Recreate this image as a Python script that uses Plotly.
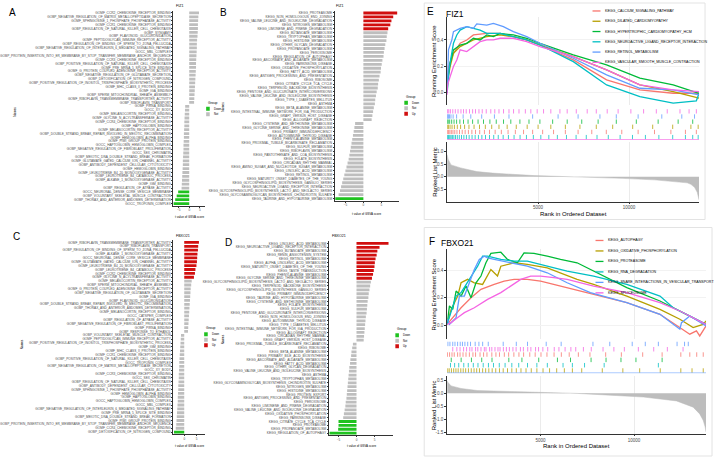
import plotly.graph_objects as go

W, H = 717, 459
def fx(p): return p / W
def fy(p): return 1 - p / H

# ------------------------------------------------------------------ data
A_names = ["GOMF_CCR2_CHEMOKINE_RECEPTOR_BINDING","GOBP_NEGATIVE_REGULATION_OF_MATRIX_METALLOPEPTIDASE_SECRETION",
"GOMF_SPHINGOSINE_1_PHOSPHATE_PHOSPHATASE_ACTIVITY","GOMF_CCR1_CHEMOKINE_RECEPTOR_BINDING",
"GOBP_REGULATION_OF_NATURAL_KILLER_CELL_CHEMOTAXIS","GOBP_SYNGAMY","GOBP_FLAVONOID_GLUCURONIDATION",
"GOMF_PEPTIDOGLYCAN_IMMUNE_RECEPTOR_ACTIVITY","GOBP_REGULATION_OF_BINDING_OF_SPERM_TO_ZONA_PELLUCIDA",
"GOBP_NEGATIVE_REGULATION_OF_INTERLEUKIN_6_MEDIATED_SIGNALING_PATHWAY","GOCC_MBL_COMPLEX",
"GOBP_PROTEIN_INSERTION_INTO_ER_MEMBRANE_BY_STOP_TRANSFER_MEMBRANE_ANCHOR_SEQUENCE","GOMF_CCR3_CHEMOKINE_RECEPTOR_BINDING",
"GOBP_POSITIVE_REGULATION_OF_NATURAL_KILLER_CELL_CHEMOTAXIS","GOMF_PRE_MRNA_5_SPLICE_SITE_BINDING",
"GOMF_G_PROTEIN_COUPLED_ADENOSINE_RECEPTOR_ACTIVITY","GOBP_NEGATIVE_REGULATION_OF_GLUTAMATE_SECRETION",
"GOBP_DETOXIFICATION_OF_NITROGEN_COMPOUND","GOBP_POSITIVE_REGULATION_OF_INOSITOL_TRISPHOSPHATE_BIOSYNTHETIC_PROCESS",
"GOMF_MHC_CLASS_II_PROTEIN_BINDING","GOMF_IGA_BINDING","GOBP_SPERM_MITOCHONDRIAL_SHEATH_ASSEMBLY",
"GOMF_RIBOFLAVIN_TRANSMEMBRANE_TRANSPORTER_ACTIVITY","GOBP_RIBOFLAVIN_TRANSPORT","GOMF_PIRNA_BINDING","GOCC_XY_BODY",
"GOMF_MELANOCORTIN_RECEPTOR_BINDING","GOMF_GLYCINE_N_ACYLTRANSFERASE_ACTIVITY","GOMF_CCR4_CHEMOKINE_RECEPTOR_BINDING",
"GOMF_HAPTOGLOBIN_BINDING","GOMF_MELANOCORTIN_RECEPTOR_ACTIVITY",
"GOBP_DOUBLE_STRAND_BREAK_REPAIR_INVOLVED_IN_MEIOTIC_RECOMBINATION","GOMF_HEMOGLOBIN_ALPHA_BINDING",
"GOMF_PIWI_GROUP_PROTEIN_BINDING","GOCC_HAPTOGLOBIN_HEMOGLOBIN_COMPLEX","GOBP_NEGATIVE_REGULATION_OF_FIBROBLAST_PROLIFERATION",
"GOCC_SEX_CHROMATIN","GOBP_MEIOTIC_DNA_DOUBLE_STRAND_BREAK_FORMATION","GOMF_GLUTAMATE_GATED_CALCIUM_ION_CHANNEL_ACTIVITY",
"GOBP_ANTIBODY_DEPENDENT_CELLULAR_CYTOTOXICITY","GOMF_HEMOGLOBIN_BINDING","GOMF_LEUKOTRIENE_B4_20_MONOOXYGENASE_ACTIVITY",
"GOBP_LEUKOTRIENE_B4_CATABOLIC_PROCESS","GOMF_ALKANE_1_MONOOXYGENASE_ACTIVITY","GOMF_IGM_BINDING",
"GOBP_REGULATION_OF_ATPASE_ACTIVITY","GOCC_NEURONAL_DENSE_CORE_VESICLE_MEMBRANE",
"GOBP_VOLUNTARY_SKELETAL_MUSCLE_CONTRACTION","GOBP_THORAX_AND_ANTERIOR_ABDOMEN_DETERMINATION","GOCC_TROPONIN_COMPLEX"]
A_t = [4.6, 4.3, 4.2, 4.1, 4.1, 4.0, 3.9, 3.7, 3.6, 3.6, 3.5, 3.4, 3.3, 3.2, 3.2, 3.1, 3.0, 2.9, 2.8, 2.7, 2.6, 2.5, 2.4, 2.3,
       -1.9, -2.0, -2.1, -2.2, -2.3, -2.3, -2.4, -2.5, -2.5, -2.6, -2.7, -2.7, -2.8, -2.9, -3.0, -3.0, -3.1, -3.2, -3.3, -3.4, -3.5, -3.6,
       -5.2, -5.9, -6.6, -7.4]
A_group = ["Not"] * 46 + ["Down"] * 4

B_names = ["KEGG_PROTEASOME","KEGG_NON_HOMOLOGOUS_END_JOINING","KEGG_VALINE_LEUCINE_AND_ISOLEUCINE_DEGRADATION",
"KEGG_NITROGEN_METABOLISM","KEGG_LIMONENE_AND_PINENE_DEGRADATION","KEGG_BUTANOATE_METABOLISM","KEGG_TRYPTOPHAN_METABOLISM",
"KEGG_HISTIDINE_METABOLISM","KEGG_OTHER_GLYCAN_DEGRADATION","KEGG_PROPANOATE_METABOLISM","KEGG_PEROXISOME",
"KEGG_REGULATION_OF_AUTOPHAGY","KEGG_ASCORBATE_AND_ALDARATE_METABOLISM","KEGG_PARKINSONS_DISEASE",
"KEGG_OXIDATIVE_PHOSPHORYLATION","KEGG_FATTY_ACID_METABOLISM","KEGG_ANTIGEN_PROCESSING_AND_PRESENTATION","KEGG_RIBOSOME",
"KEGG_CITRATE_CYCLE_TCA_CYCLE","KEGG_TERPENOID_BACKBONE_BIOSYNTHESIS","KEGG_PENTOSE_AND_GLUCURONATE_INTERCONVERSIONS",
"KEGG_VALINE_LEUCINE_AND_ISOLEUCINE_BIOSYNTHESIS","KEGG_TYPE_I_DIABETES_MELLITUS","KEGG_ASTHMA","KEGG_BETA_ALANINE_METABOLISM",
"KEGG_INTESTINAL_IMMUNE_NETWORK_FOR_IGA_PRODUCTION","KEGG_GRAFT_VERSUS_HOST_DISEASE","KEGG_ALLOGRAFT_REJECTION",
"KEGG_CYSTEINE_AND_METHIONINE_METABOLISM","KEGG_GLYCINE_SERINE_AND_THREONINE_METABOLISM","KEGG_PRIMARY_IMMUNODEFICIENCY",
"KEGG_AUTOIMMUNE_THYROID_DISEASE","KEGG_PHENYLALANINE_METABOLISM","KEGG_PROXIMAL_TUBULE_BICARBONATE_RECLAMATION",
"KEGG_SULFUR_METABOLISM","KEGG_RIBOFLAVIN_METABOLISM","KEGG_PANTOTHENATE_AND_COA_BIOSYNTHESIS","KEGG_FOLATE_BIOSYNTHESIS",
"KEGG_CIRCADIAN_RHYTHM_MAMMAL","KEGG_AMINO_SUGAR_AND_NUCLEOTIDE_SUGAR_METABOLISM","KEGG_LINOLEIC_ACID_METABOLISM",
"KEGG_RETINOL_METABOLISM","KEGG_MATURITY_ONSET_DIABETES_OF_THE_YOUNG","KEGG_GLYCOSPHINGOLIPID_BIOSYNTHESIS_GANGLIO_SERIES",
"KEGG_NEUROACTIVE_LIGAND_RECEPTOR_INTERACTION","KEGG_GLYCOSPHINGOLIPID_BIOSYNTHESIS_LACTO_AND_NEOLACTO_SERIES",
"KEGG_GLYCOSAMINOGLYCAN_BIOSYNTHESIS_CHONDROITIN_SULFATE","KEGG_TAURINE_AND_HYPOTAURINE_METABOLISM"]
B_t = [9.4, 8.3, 7.8, 7.5, 6.9,
       6.7, 6.5, 6.4, 6.1, 5.9, 5.7, 5.6, 5.3, 5.1, 4.9, 4.8, 4.5, 4.3, 4.1, 4.0, 3.7, 3.5, 3.3, 3.2, 2.9, 2.7, 2.5, 2.3,
       -2.3, -2.5, -2.7, -2.9, -3.1, -3.3, -3.5, -3.7, -3.9, -4.1, -4.4, -4.7, -5.0, -5.3, -5.6, -5.9, -6.2, -6.5, -6.9,
       -7.8]
B_group = ["Up"] * 5 + ["Not"] * 42 + ["Down"]

C_names = ["GOMF_RIBOFLAVIN_TRANSMEMBRANE_TRANSPORTER_ACTIVITY","GOBP_RIBOFLAVIN_TRANSPORT",
"GOBP_REGULATION_OF_BINDING_OF_SPERM_TO_ZONA_PELLUCIDA","GOMF_ALKANE_1_MONOOXYGENASE_ACTIVITY",
"GOCC_NEURONAL_DENSE_CORE_VESICLE_MEMBRANE","GOMF_GLUTAMATE_GATED_CALCIUM_ION_CHANNEL_ACTIVITY",
"GOMF_LEUKOTRIENE_B4_20_MONOOXYGENASE_ACTIVITY","GOBP_LEUKOTRIENE_B4_CATABOLIC_PROCESS","GOMF_CCR2_CHEMOKINE_RECEPTOR_BINDING",
"GOMF_GLYCINE_N_ACYLTRANSFERASE_ACTIVITY","GOMF_MELANOCORTIN_RECEPTOR_ACTIVITY","GOBP_SPERM_MITOCHONDRIAL_SHEATH_ASSEMBLY",
"GOMF_G_PROTEIN_COUPLED_ADENOSINE_RECEPTOR_ACTIVITY","GOBP_NEGATIVE_REGULATION_OF_GLUTAMATE_SECRETION","GOMF_IGA_BINDING",
"GOBP_FLAVONOID_GLUCURONIDATION","GOBP_DOUBLE_STRAND_BREAK_REPAIR_INVOLVED_IN_MEIOTIC_RECOMBINATION",
"GOBP_THORAX_AND_ANTERIOR_ABDOMEN_DETERMINATION","GOMF_MELANOCORTIN_RECEPTOR_BINDING","GOCC_CATSPER_COMPLEX",
"GOBP_REGULATION_OF_ATPASE_ACTIVITY","GOBP_NEGATIVE_REGULATION_OF_FIBROBLAST_PROLIFERATION","GOMF_PIRNA_BINDING",
"GOBP_RESPONSE_TO_ETHANOL","GOBP_VOLUNTARY_SKELETAL_MUSCLE_CONTRACTION","GOMF_PEPTIDOGLYCAN_IMMUNE_RECEPTOR_ACTIVITY",
"GOBP_POSITIVE_REGULATION_OF_INOSITOL_TRISPHOSPHATE_BIOSYNTHETIC_PROCESS","GOMF_IGM_BINDING","GOMF_MHC_CLASS_II_PROTEIN_BINDING",
"GOMF_CCR1_CHEMOKINE_RECEPTOR_BINDING","GOBP_POSITIVE_REGULATION_OF_NATURAL_KILLER_CELL_CHEMOTAXIS","GOCC_TROPONIN_COMPLEX",
"GOBP_NEGATIVE_REGULATION_OF_MATRIX_METALLOPEPTIDASE_SECRETION","GOCC_XY_BODY","GOMF_CCR3_CHEMOKINE_RECEPTOR_BINDING",
"GOCC_SEX_CHROMATIN","GOBP_REGULATION_OF_NATURAL_KILLER_CELL_CHEMOTAXIS","GOBP_ANTIBODY_DEPENDENT_CELLULAR_CYTOTOXICITY",
"GOMF_SPHINGOSINE_1_PHOSPHATE_PHOSPHATASE_ACTIVITY","GOMF_HEMOGLOBIN_ALPHA_BINDING","GOMF_HAPTOGLOBIN_BINDING",
"GOCC_HAPTOGLOBIN_HEMOGLOBIN_COMPLEX","GOCC_MBL_COMPLEX","GOBP_NEGATIVE_REGULATION_OF_INTERLEUKIN_6_MEDIATED_SIGNALING_PATHWAY",
"GOMF_PRE_MRNA_5_SPLICE_SITE_BINDING","GOBP_MEIOTIC_DNA_DOUBLE_STRAND_BREAK_FORMATION","GOMF_PIWI_GROUP_PROTEIN_BINDING",
"GOBP_PROTEIN_INSERTION_INTO_ER_MEMBRANE_BY_STOP_TRANSFER_MEMBRANE_ANCHOR_SEQUENCE","GOMF_CCR4_CHEMOKINE_RECEPTOR_BINDING",
"GOBP_DETOXIFICATION_OF_NITROGEN_COMPOUND"]
C_t = [5.9, 5.6, 5.5, 5.3, 5.2, 5.1, 4.9, 4.5, 4.3, 3.9,
       3.0, 2.8, 2.6, 2.5, 2.4, 2.3, 2.2, 2.1, 2.0, 1.9, 1.8, 1.7, 1.6, 1.5,
       -1.3, -1.4, -1.5, -1.6, -1.7, -1.8, -1.9, -2.0, -2.0, -2.1, -2.2, -2.2, -2.3, -2.4, -2.4, -2.5, -2.6, -2.6, -2.7,
       -2.8, -2.9, -3.0, -3.1, -3.2, -3.4,
       -4.1]
C_group = ["Up"] * 10 + ["Not"] * 39 + ["Down"]

D_names = ["KEGG_LINOLEIC_ACID_METABOLISM","KEGG_NEUROACTIVE_LIGAND_RECEPTOR_INTERACTION","KEGG_BUTANOATE_METABOLISM",
"KEGG_RENIN_ANGIOTENSIN_SYSTEM","KEGG_RETINOL_METABOLISM","KEGG_ALPHA_LINOLENIC_ACID_METABOLISM",
"KEGG_MATURITY_ONSET_DIABETES_OF_THE_YOUNG","KEGG_TASTE_TRANSDUCTION","KEGG_PHENYLALANINE_METABOLISM",
"KEGG_GLYCINE_SERINE_AND_THREONINE_METABOLISM","KEGG_GLYCOSPHINGOLIPID_BIOSYNTHESIS_LACTO_AND_NEOLACTO_SERIES",
"KEGG_TERPENOID_BACKBONE_BIOSYNTHESIS","KEGG_GLYCOSPHINGOLIPID_BIOSYNTHESIS_GANGLIO_SERIES","KEGG_PRIMARY_IMMUNODEFICIENCY",
"KEGG_TAURINE_AND_HYPOTAURINE_METABOLISM","KEGG_CYSTEINE_AND_METHIONINE_METABOLISM","KEGG_FOLATE_BIOSYNTHESIS",
"KEGG_SULFUR_METABOLISM","KEGG_PENTOSE_AND_GLUCURONATE_INTERCONVERSIONS","KEGG_NON_HOMOLOGOUS_END_JOINING",
"KEGG_AUTOIMMUNE_THYROID_DISEASE","KEGG_TYPE_I_DIABETES_MELLITUS","KEGG_INTESTINAL_IMMUNE_NETWORK_FOR_IGA_PRODUCTION",
"KEGG_ALLOGRAFT_REJECTION","KEGG_CIRCADIAN_RHYTHM_MAMMAL","KEGG_GRAFT_VERSUS_HOST_DISEASE",
"KEGG_PROXIMAL_TUBULE_BICARBONATE_RECLAMATION","KEGG_RIBOSOME","KEGG_BETA_ALANINE_METABOLISM",
"KEGG_PRIMARY_BILE_ACID_BIOSYNTHESIS","KEGG_ASCORBATE_AND_ALDARATE_METABOLISM","KEGG_FATTY_ACID_METABOLISM",
"KEGG_OTHER_GLYCAN_DEGRADATION","KEGG_VALINE_LEUCINE_AND_ISOLEUCINE_BIOSYNTHESIS","KEGG_ASTHMA","KEGG_TRYPTOPHAN_METABOLISM",
"KEGG_GLYCOSAMINOGLYCAN_BIOSYNTHESIS_CHONDROITIN_SULFATE","KEGG_NITROGEN_METABOLISM","KEGG_HISTIDINE_METABOLISM",
"KEGG_PROTEIN_EXPORT","KEGG_ANTIGEN_PROCESSING_AND_PRESENTATION","KEGG_PEROXISOME","KEGG_LIMONENE_AND_PINENE_DEGRADATION",
"KEGG_VALINE_LEUCINE_AND_ISOLEUCINE_DEGRADATION","KEGG_OXIDATIVE_PHOSPHORYLATION","KEGG_PARKINSONS_DISEASE",
"KEGG_CITRATE_CYCLE_TCA_CYCLE","KEGG_PROTEASOME","KEGG_PROPANOATE_METABOLISM","KEGG_REGULATION_OF_AUTOPHAGY"]
D_t = [8.9, 6.4, 5.8, 5.6, 5.3, 5.1, 5.0, 4.8, 4.6, 4.3,
       4.0, 3.8, 3.6, 3.4, 3.3, 3.1, 3.0, 2.9, 2.8, 2.6, 2.5, 2.4, 2.3, 2.2, 2.1, 2.0,
       -1.0, -1.2, -1.4, -1.5, -1.7, -1.8, -2.0, -2.1, -2.2, -2.3, -2.4, -2.5, -2.6, -2.7, -2.8, -3.0, -3.1, -3.3, -3.5, -3.7,
       -5.0, -5.0, -5.1, -7.5]
D_group = ["Up"] * 10 + ["Not"] * 36 + ["Down"] * 4

T_TICKS = [-5, 0, 5]

# GSEA panel E (FIZ1)
E_sets = ["KEGG_CALCIUM_SIGNALING_PATHWAY", "KEGG_DILATED_CARDIOMYOPATHY", "KEGG_HYPERTROPHIC_CARDIOMYOPATHY_HCM",
          "KEGG_NEUROACTIVE_LIGAND_RECEPTOR_INTERACTION", "KEGG_RETINOL_METABOLISM", "KEGG_VASCULAR_SMOOTH_MUSCLE_CONTRACTION"]
E_calcium_rank = [0, 73, 348, 714, 1080, 1446, 2178, 2910, 3642, 4374, 5106, 6936, 8766, 10596, 12426, 13850]
E_calcium_es = [0, 0.199, 0.299, 0.375, 0.40, 0.438, 0.450, 0.450, 0.425, 0.40, 0.362, 0.249, 0.098, 0.023, -0.003, -0.003]
E_dilated_rank = [0, 18, 165, 348, 714, 1446, 2178, 2910, 3642, 4374, 5106, 6936, 8766, 10596, 12426, 13850]
E_dilated_es = [0, 0.086, 0.199, 0.299, 0.350, 0.40, 0.425, 0.438, 0.425, 0.40, 0.362, 0.274, 0.174, 0.060, 0.010, -0.040]
E_hcm_rank = [0, 18, 165, 348, 714, 1080, 1446, 1812, 2178, 2544, 2910, 3642, 4374, 5106, 6936, 8766, 10596, 12426, 13850]
E_hcm_es = [0, 0.098, 0.224, 0.325, 0.362, 0.375, 0.413, 0.40, 0.438, 0.425, 0.450, 0.438, 0.413, 0.375, 0.287, 0.211, 0.111, 0.060, -0.003]
E_neuro_rank = [0, 128, 348, 531, 714, 1080, 1446, 1812, 2178, 2910, 3642, 4374, 5106, 6936, 8766, 10596, 12426, 13700, 13850]
E_neuro_es = [0, 0.199, 0.375, 0.438, 0.475, 0.501, 0.488, 0.475, 0.450, 0.450, 0.425, 0.40, 0.362, 0.236, 0.060, -0.028, -0.078, -0.06, -0.003]
E_retinol_rank = [0, 73, 256, 348, 714, 1080, 1446, 1629, 2178, 2544, 3093, 3642, 4374, 5106, 6936, 8766, 10596, 12426, 13850]
E_retinol_es = [0, 0.325, 0.40, 0.463, 0.488, 0.501, 0.488, 0.521, 0.513, 0.526, 0.501, 0.463, 0.425, 0.375, 0.262, 0.136, 0.035, 0.023, -0.015]
E_vascular_rank = [0, 18, 165, 348, 531, 714, 1080, 1446, 1812, 2178, 2544, 2910, 3642, 4374, 5106, 6936, 8766, 10596, 12426, 13850]
E_vascular_es = [-0.015, 0.06, 0.123, 0.199, 0.249, 0.325, 0.312, 0.350, 0.387, 0.40, 0.40, 0.413, 0.413, 0.387, 0.350, 0.274, 0.174, 0.060, 0.023, 0.010]

E_hits_vascular = [20, 90, 180, 310, 450, 600, 760, 900, 1050, 1230, 1400, 1560, 1750, 1930, 2150, 2400, 2620, 2850, 3100,
                   3400, 3650, 3950, 4300, 4600, 4950, 5300, 5700, 6200, 6600, 7100, 7700, 8200, 8800, 9400, 10100,
                   10800, 11500, 12100, 12800, 13300, 13700]
E_hits_retinol = [15, 40, 70, 130, 210, 330, 520, 880, 1300, 1900, 2600, 3400, 4700, 6100, 7200, 8400, 9300, 10500,
                  11800, 12900, 13600]
E_hits_hcm = [10, 60, 140, 250, 380, 520, 700, 900, 1150, 1400, 1700, 2000, 2350, 2700, 3100, 3500, 4000, 4500, 5100,
              5800, 6600, 7400, 8300, 9300, 10400, 11600, 12700, 13500]
E_hits_dilated = [12, 70, 160, 270, 400, 560, 740, 960, 1200, 1480, 1780, 2100, 2450, 2850, 3300, 3800, 4400, 5000,
                  5700, 6500, 7300, 8200, 9100, 10200, 11300, 12400, 13400, 13800]
E_hits_calcium = [25, 80, 150, 230, 320, 420, 540, 680, 830, 990, 1170, 1360, 1560, 1790, 2050, 2330, 2640, 2980, 3350,
                  3750, 4200, 4700, 5250, 5850, 6500, 7200, 7950, 8750, 9600, 10500, 11400, 12300, 13100, 13700]
E_hits_neuro = [8, 35, 70, 110, 160, 220, 290, 370, 460, 560, 670, 790, 920, 1060, 1210, 1370, 1540, 1720, 1910, 2110,
                2330, 2560, 2810, 3080, 3370, 3680, 4010, 4360, 4740, 5150, 5590, 6060, 6560, 7090, 7650, 8240, 8860,
                9510, 10190, 10900, 11640, 12400, 13100, 13500, 13800]

E_metric_rank = [0, 60, 213, 745, 1630, 2500, 4800, 7840, 9620, 11400, 12500, 13200, 13400, 13600, 13750, 13850]
E_metric_val = [0.89, 0.70, 0.48, 0.36, 0.21, 0.15, 0.05, -0.01, -0.06, -0.12, -0.18, -0.24, -0.30, -0.42, -0.62, -0.93]

# GSEA panel F (FBXO21)
F_sets = ["KEGG_AUTOPHAGY", "KEGG_OXIDATIVE_PHOSPHORYLATION", "KEGG_PROTEASOME", "KEGG_RNA_DEGRADATION",
          "KEGG_SNARE_INTERACTIONS_IN_VESICULAR_TRANSPORT", "KEGG_SPLICEOSOME"]
F_autophagy_rank = [0, 390, 745, 1277, 1809, 2518, 3050, 3582, 4291, 5001, 5710, 6419, 7838, 9611, 11385, 12626, 12981, 13336, 13513, 13850]
F_autophagy_es = [0.007, 0.068, 0.128, 0.201, 0.262, 0.298, 0.322, 0.335, 0.335, 0.322, 0.298, 0.274, 0.225, 0.165, 0.080, -0.029, -0.065, -0.041, -0.078, -0.005]
F_oxphos_rank = [0, 213, 567, 745, 1099, 1454, 1897, 2341, 2695, 2873, 3582, 4291, 5355, 6065, 6951, 7838, 9611, 11385, 12450, 13158, 13690, 13850]
F_oxphos_es = [0.007, 0.116, 0.213, 0.310, 0.335, 0.310, 0.298, 0.407, 0.359, 0.431, 0.456, 0.444, 0.419, 0.383, 0.335, 0.298, 0.213, 0.116, 0.044, -0.017, 0.007, 0.031]
F_proteasome_rank = [0, 124, 301, 479, 745, 1011, 1277, 1543, 1809, 2075, 2341, 2873, 3227, 3759, 4114, 4646, 5355, 6065, 6951, 7838, 9611, 11385, 12450, 13850]
F_proteasome_es = [0.007, 0.141, 0.116, 0.250, 0.213, 0.286, 0.201, 0.310, 0.359, 0.456, 0.524, 0.533, 0.48, 0.456, 0.528, 0.524, 0.504, 0.48, 0.456, 0.395, 0.274, 0.177, 0.104, 0.007]
F_rna_rank = [0, 213, 479, 745, 1277, 1631, 1897, 2163, 2873, 3582, 4291, 5355, 6419, 7838, 9611, 11385, 12094, 12804, 13850]
F_rna_es = [0.007, 0.092, 0.213, 0.238, 0.359, 0.431, 0.504, 0.504, 0.48, 0.468, 0.468, 0.431, 0.395, 0.359, 0.298, 0.213, 0.128, 0.080, 0.007]
F_snare_rank = [0, 124, 479, 656, 922, 1277, 1454, 1720, 1986, 2163, 2518, 3405, 4291, 5355, 6419, 7661, 9611, 11385, 12450, 12537, 12981, 13850]
F_snare_es = [0.044, 0.007, 0.056, 0.213, 0.213, 0.335, 0.407, 0.48, 0.504, 0.492, 0.48, 0.456, 0.431, 0.383, 0.310, 0.238, 0.165, 0.080, -0.029, 0.019, 0.068, -0.005]
F_splice_rank = [0, 213, 567, 922, 1454, 2163, 2873, 3405, 3937, 4469, 5001, 5710, 6419, 7838, 9611, 11385, 12450, 13850]
F_splice_es = [0.007, 0.019, 0.056, 0.092, 0.128, 0.189, 0.238, 0.286, 0.335, 0.359, 0.359, 0.347, 0.335, 0.286, 0.238, 0.165, 0.104, 0.007]

F_hits_snare = [40, 150, 300, 420, 560, 700, 820, 950, 1100, 1250, 1500, 1700, 1900, 2200, 3000, 3700, 4300, 5300, 6100,
                7800, 8700, 9900, 10600, 11300, 12300, 12700, 12900]
F_hits_splice = [300, 520, 690, 880, 1040, 1210, 1330, 1520, 1640, 1810, 1990, 2080, 2270, 2390, 2560, 2720, 2830, 3010,
                 3170, 3330, 3520, 3690, 3920, 4080, 4310, 4480, 4730, 4890, 5120, 5380, 5730, 5980, 6310, 6620, 6880,
                 7290, 7710, 8340, 8920, 9480, 10230, 11050, 11780, 12620]
F_hits_autophagy = [20, 130, 260, 380, 560, 690, 850, 1010, 1190, 1380, 1520, 1760, 1950, 2130, 2390, 2610, 2800, 3060,
                    3290, 3570, 3840, 4090, 4420, 4710, 5020, 5340, 5720, 6110, 6530, 7020, 7640, 8480, 9320, 10460,
                    11500, 12500, 12980, 13350, 13700]
F_hits_proteasome = [220, 750, 1300, 1850, 2400, 3300, 4000, 4900, 5900, 6600, 7700, 8500, 9300, 10100, 11500]
F_hits_rna = [180, 400, 620, 890, 1130, 1400, 1650, 1930, 2210, 2480, 2790, 3100, 3460, 3830, 4300, 4800, 5360, 6200,
              6700, 7350, 8400, 11300]
F_hits_oxphos = [30, 110, 230, 350, 470, 590, 730, 860, 990, 1140, 1290, 1440, 1580, 1730, 1900, 2060, 2230, 2410,
                 2600, 2800, 3000, 3230, 3460, 3700, 3950, 4220, 4500, 4800, 5130, 5480, 5860, 6270, 6700, 7200, 8300,
                 9400, 10300, 11400, 12500, 13100, 13700]

F_metric_rank = [0, 60, 213, 745, 1630, 3400, 5000, 6950, 8720, 10500, 12270, 13160, 13510, 13700, 13800, 13850]
F_metric_val = [0.47, 0.40, 0.28, 0.18, 0.10, 0.05, 0.03, -0.01, -0.07, -0.15, -0.30, -0.54, -0.80, -1.05, -1.30, -1.50]

RANK_TICKS = [5000, 10000]
N_GENES = 13850

GROUP_COLORS = {"Down": "#1FC21F", "Not": "#BEBEBE", "Up": "#D10F0F"}
SET_COLORS = ["#F8766D", "#B79F00", "#00BA38", "#00BFC4", "#619CFF", "#F564E3"]

FONT = "Liberation Sans, Arial, sans-serif"
fig = go.Figure()
ann = []
shapes = []

# ------------------------------------------------------------------ bar panels
bar_panels = [
    (A_names, A_t, A_group, "", (171, 203), (11, 206), (-7.5, 7.5)),
    (B_names, B_t, B_group, "2", (333, 398), (11, 201), (-8.0, 10.0)),
    (C_names, C_t, C_group, "3", (171, 203), (241, 435), (-4.4, 8.4)),
    (D_names, D_t, D_group, "4", (327, 392), (242, 436), (-7.75, 10.25)),
]
for names, tv, grp, s, xd, yd, rng in bar_panels:
    fig.add_trace(go.Bar(x=tv, y=names, orientation="h", width=0.72,
                         marker=dict(color=[GROUP_COLORS[g] for g in grp], line=dict(width=0)),
                         xaxis="x" + s, yaxis="y" + s, showlegend=False, hoverinfo="skip"))
    fig.layout["xaxis" + s] = dict(domain=[fx(xd[0]), fx(xd[1])], range=list(rng), anchor="y" + s,
                                   tickvals=T_TICKS, tickfont=dict(size=3, color="#4d4d4d"), ticks="outside",
                                   ticklen=1.5, tickwidth=0.5, tickcolor="#333", showline=True, linecolor="#333",
                                   linewidth=0.6, showgrid=False, zeroline=False)
    fig.layout["yaxis" + s] = dict(domain=[fy(yd[1]), fy(yd[0])], anchor="x" + s, type="category",
                                   categoryorder="array", categoryarray=names,
                                   autorange="reversed", tickmode="linear", tick0=0, dtick=1,
                                   tickfont=dict(size=3.2, color="#4d4d4d"), ticks="outside",
                                   ticklen=1, tickwidth=0.4, tickcolor="#333", showline=True, linecolor="#333",
                                   linewidth=0.6, showgrid=False)

def text(x, y, t, size, color="#000", xanchor="left", yanchor="middle", angle=0):
    ann.append(dict(x=fx(x), y=fy(y), xref="paper", yref="paper", text=t, showarrow=False,
                    font=dict(size=size, color=color, family=FONT), xanchor=xanchor, yanchor=yanchor,
                    textangle=angle))

for L, x, y in [("A", 4, 13), ("B", 216, 13), ("C", 8, 237), ("D", 221, 243), ("E", 424, 12), ("F", 426, 242)]:
    text(x, y, L, 10)
for t, x, y in [("FIZ1", 172, 6), ("FIZ1", 332, 6), ("FBXO21", 172, 237), ("FBXO21", 328, 237)]:
    text(x, y, t, 3.6)
for x, y in [(12, 112), (221, 107), (19, 345), (221, 340)]:
    text(x, y, "Names", 3, angle=-90, xanchor="center")
for x, y in [(187, 217), (365, 214), (187, 447), (360, 447)]:
    text(x, y, "t value of GSVA score", 3, xanchor="center")

legends = [
    (204, 103, ["Down", "Not"]),
    (403, 97, ["Down", "Not", "Up"]),
    (202, 329, ["Down", "Not", "Up"]),
    (394, 330, ["Down", "Not", "Up"]),
]
for lx, ly, items in legends:
    text(lx, ly, "Group", 3.4)
    for i, g in enumerate(items):
        y0 = ly + 4 + i * 5.5
        shapes.append(dict(type="rect", xref="paper", yref="paper", x0=fx(lx), x1=fx(lx + 3.6),
                           y0=fy(y0 + 4), y1=fy(y0), fillcolor=GROUP_COLORS[g], line=dict(width=0)))
        text(lx + 5.5, y0 + 2, g, 2.8)

# ------------------------------------------------------------------ GSEA panels
def gsea(prefix_idx, title, tx, ty, xd, top_y, hits_y, met_y, es_range, met_range, met_ticks,
         curves, hits_rows, metric, legend_pos, box, sets):
    a_top, a_hit, a_met = prefix_idx, prefix_idx + 1, prefix_idx + 2
    for (r, e), c in zip(curves, SET_COLORS):
        fig.add_trace(go.Scatter(x=r, y=e, mode="lines", line=dict(color=c, width=1.3),
                                 xaxis=f"x{a_top}", yaxis=f"y{a_top}", showlegend=False, hoverinfo="skip"))
    for k, (hits, c) in enumerate(hits_rows):
        xs, ys = [], []
        for h in hits:
            xs += [h, h, None]
            ys += [5 - k + 0.08, 6 - k - 0.08, None]
        fig.add_trace(go.Scatter(x=xs, y=ys, mode="lines", line=dict(color=c, width=0.9), opacity=0.85,
                                 xaxis=f"x{a_hit}", yaxis=f"y{a_hit}", showlegend=False, hoverinfo="skip"))
    fig.add_trace(go.Scatter(x=[0, N_GENES], y=[0.02, 0.02], mode="lines",
                             line=dict(color=hits_rows[0][1], width=0.9),
                             xaxis=f"x{a_hit}", yaxis=f"y{a_hit}", showlegend=False, hoverinfo="skip"))
    fig.add_trace(go.Scatter(x=metric[0], y=metric[1], mode="lines", fill="tozeroy", fillcolor="#BDBDBD",
                             line=dict(color="#BDBDBD", width=0.5), xaxis=f"x{a_met}", yaxis=f"y{a_met}",
                             showlegend=False, hoverinfo="skip"))
    common_x = dict(domain=[fx(xd[0]), fx(xd[1])], range=[0, N_GENES], showgrid=True, gridcolor="#EBEBEB",
                    gridwidth=0.6, tickvals=RANK_TICKS, ticktext=[str(v) for v in RANK_TICKS], zeroline=False)
    fig.layout[f"xaxis{a_top}"] = dict(common_x, anchor=f"y{a_top}", showticklabels=False, ticks="")
    fig.layout[f"yaxis{a_top}"] = dict(domain=[fy(top_y[1]), fy(top_y[0])], range=list(es_range), anchor=f"x{a_top}",
                                       tickvals=[0.0, 0.2, 0.4], ticktext=["0.0", "0.2", "0.4"],
                                       tickfont=dict(size=4.5, color="#4d4d4d"), ticks="outside", ticklen=2,
                                       tickwidth=0.6, tickcolor="#333", showline=True, linecolor="#333",
                                       linewidth=0.8, showgrid=True, gridcolor="#F2F2F2", zeroline=False)
    fig.layout[f"xaxis{a_hit}"] = dict(domain=[fx(xd[0]), fx(xd[1])], range=[0, N_GENES], anchor=f"y{a_hit}",
                                       visible=False)
    fig.layout[f"yaxis{a_hit}"] = dict(domain=[fy(hits_y[1]), fy(hits_y[0])], range=[0, 6], anchor=f"x{a_hit}",
                                       visible=False)
    fig.layout[f"xaxis{a_met}"] = dict(common_x, anchor=f"y{a_met}", tickfont=dict(size=4.5, color="#4d4d4d"),
                                       ticks="outside", ticklen=1.5, tickwidth=0.6, tickcolor="#333",
                                       showline=True, linecolor="#333", linewidth=0.8)
    fig.layout[f"yaxis{a_met}"] = dict(domain=[fy(met_y[1]), fy(met_y[0])], range=list(met_range), anchor=f"x{a_met}",
                                       tickvals=met_ticks, ticktext=[f"{v:.1f}" for v in met_ticks],
                                       tickfont=dict(size=4.5, color="#4d4d4d"), ticks="outside", ticklen=2,
                                       tickwidth=0.6, tickcolor="#333", showline=True, linecolor="#333",
                                       linewidth=0.8, showgrid=False, zeroline=False)
    text(tx, ty, title, 8.5)
    text(433, (top_y[0] + top_y[1]) / 2, "Running Enrichment Score", 6, xanchor="center", angle=-90)
    text(433, (met_y[0] + met_y[1]) / 2, "Ranked List Metric", 6, xanchor="center", angle=-90)
    text((xd[0] + xd[1]) / 2, met_y[1] + 12, "Rank in Ordered Dataset", 6, xanchor="center")
    lx, ly0, dy = legend_pos
    for i, (nm, c) in enumerate(zip(sets, SET_COLORS)):
        yy = ly0 + i * dy
        shapes.append(dict(type="line", xref="paper", yref="paper", x0=fx(lx), x1=fx(lx + 8), y0=fy(yy), y1=fy(yy),
                           line=dict(color=c, width=1.3)))
        text(lx + 11, yy, nm, 3.6)
    shapes.append(dict(type="rect", xref="paper", yref="paper", x0=fx(box[0]), x1=fx(box[2]), y0=fy(box[3]),
                       y1=fy(box[1]), line=dict(color="#E3E3E3", width=1), fillcolor="rgba(0,0,0,0)", layer="below"))

gsea(5, "FIZ1", 443, 14, (446, 699), (17, 105), (109, 140), (142, 202), (-0.09, 0.574), (-0.99, 1.41),
     [-0.5, 0.0, 0.5, 1.0],
     [(E_calcium_rank, E_calcium_es), (E_dilated_rank, E_dilated_es), (E_hcm_rank, E_hcm_es),
      (E_neuro_rank, E_neuro_es), (E_retinol_rank, E_retinol_es), (E_vascular_rank, E_vascular_es)],
     [(E_hits_vascular, SET_COLORS[5]), (E_hits_retinol, SET_COLORS[4]), (E_hits_hcm, SET_COLORS[2]),
      (E_hits_dilated, SET_COLORS[1]), (E_hits_calcium, SET_COLORS[0]), (E_hits_neuro, SET_COLORS[3])],
     (E_metric_rank, E_metric_val), (592, 11, 10.3), (423, 3, 705, 220), E_sets)
gsea(8, "FBXO21", 438, 244, (446, 706), (250, 340), (342, 374), (377, 435), (-0.102, 0.553), (-1.577, 0.654),
     [-1.5, -1.0, -0.5, 0.0, 0.5],
     [(F_autophagy_rank, F_autophagy_es), (F_oxphos_rank, F_oxphos_es), (F_proteasome_rank, F_proteasome_es),
      (F_rna_rank, F_rna_es), (F_snare_rank, F_snare_es), (F_splice_rank, F_splice_es)],
     [(F_hits_snare, SET_COLORS[4]), (F_hits_splice, SET_COLORS[5]), (F_hits_autophagy, SET_COLORS[0]),
      (F_hits_proteasome, SET_COLORS[2]), (F_hits_rna, SET_COLORS[3]), (F_hits_oxphos, SET_COLORS[1])],
     (F_metric_rank, F_metric_val), (595, 241, 10.5), (423, 228, 712, 457), F_sets)

fig.update_layout(width=W, height=H, margin=dict(l=0, r=0, t=0, b=0), paper_bgcolor="white",
                  plot_bgcolor="rgba(0,0,0,0)", font=dict(family=FONT), annotations=ann, shapes=shapes,
                  showlegend=False)
fig.write_html("out.html")
